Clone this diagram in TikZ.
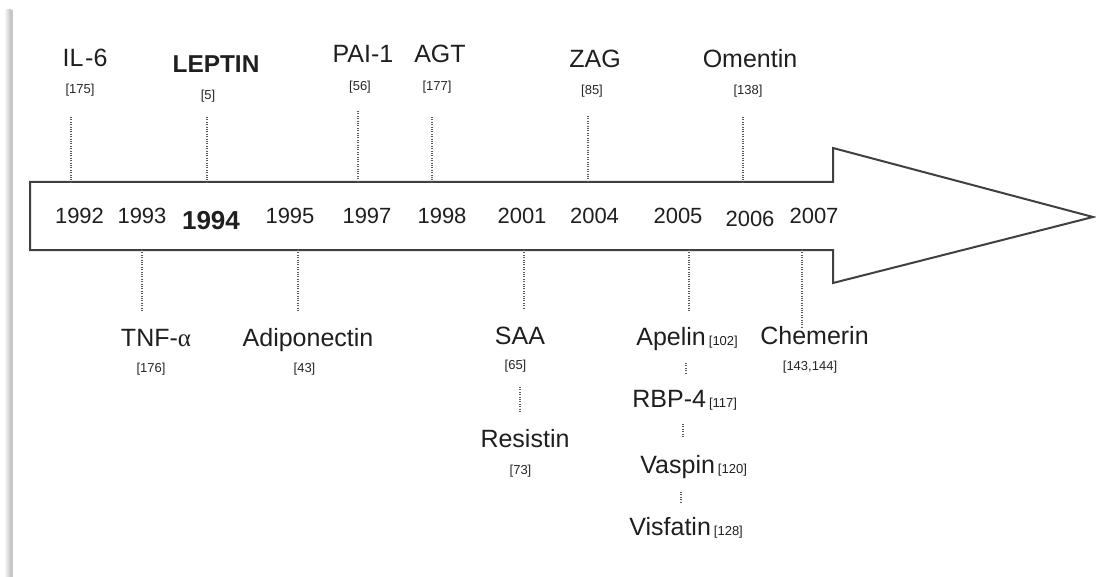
\documentclass[tikz,border=0pt]{standalone}
\usepackage{fontspec}
\setmainfont{Liberation Sans}
\newfontfamily\grkfont{Liberation Serif}
\newcommand\refsz{\fontsize{6.5}{8}\selectfont}
\begin{document}
\begin{tikzpicture}[x=0.5pt,y=-0.5pt,
  lab/.style={anchor=base, inner sep=0pt, font=\fontsize{12.5}{14}\selectfont, text=black!88},
  labw/.style={anchor=base west, inner sep=0pt, font=\fontsize{12.5}{14}\selectfont, text=black!88},
  yr/.style={anchor=base, inner sep=0pt, font=\fontsize{11}{13}\selectfont, text=black!88},
  ref/.style={anchor=base, inner sep=0pt, font=\refsz, text=black!85},
  dots/.style={draw=black!65, line width=0.6pt, dash pattern=on 0.5pt off 0.7pt},
  outline/.style={draw=black!75, line width=1pt, line join=miter}]
\useasboundingbox (0,0) rectangle (1096,577);
\fill[white] (0,0) rectangle (1096,577);
\shade[left color=white, right color=black!25] (4,10) rectangle (11,577);
\fill[black!22] (11,10) rectangle (12.5,577);

% arrow
\draw[outline] (30,182) -- (833,182) -- (833,148) -- (1093,217) -- (833,283) -- (833,250) -- (30,250) -- cycle;

% years
\node[yr] (y1992) at (79.5,224) {1992};
\node[yr] (y1993) at (142,224) {1993};
\node[yr, font=\fontsize{13}{15}\selectfont\bfseries] (y1994) at (211,229) {1994};
\node[yr] (y1995) at (290,223) {1995};
\node[yr] (y1997) at (367,224) {1997};
\node[yr] (y1998) at (442,224) {1998};
\node[yr] (y2001) at (522,224) {2001};
\node[yr] (y2004) at (594.5,224) {2004};
\node[yr] (y2005) at (678,223) {2005};
\node[yr] (y2006) at (750,227) {2006};
\node[yr] (y2007) at (814,223) {2007};

% top labels
\node[lab] (il6) at (85,67) {IL\hspace{0.9pt}-6};
\node[ref] (il6r) at (80,94) {[175]};
\node[lab, font=\fontsize{12.2}{14}\selectfont\bfseries] (lep) at (216,73) {LEPTIN};
\node[ref] (lepr) at (208,100) {[5]};
\node[lab] (pai) at (363,63) {PAI-1};
\node[ref] (pair) at (360,91) {[56]};
\node[lab] (agt) at (440,63) {AGT};
\node[ref] (agtr) at (437,91) {[177]};
\node[lab] (zag) at (595,68) {ZAG};
\node[ref] (zagr) at (592,95) {[85]};
\node[lab] (om) at (750,68) {Omentin};
\node[ref] (omr) at (748,95) {[138]};

\coordinate (t1a) at (71,117);  \coordinate (t1b) at (71,182);
\coordinate (t2a) at (207,117); \coordinate (t2b) at (207,182);
\coordinate (t3a) at (358,111); \coordinate (t3b) at (358,182);
\coordinate (t4a) at (432,117); \coordinate (t4b) at (432,182);
\coordinate (t5a) at (588,116); \coordinate (t5b) at (588,182);
\coordinate (t6a) at (743,117); \coordinate (t6b) at (743,182);
\draw[dots] (t1a) -- (t1b);
\draw[dots] (t2a) -- (t2b);
\draw[dots] (t3a) -- (t3b);
\draw[dots] (t4a) -- (t4b);
\draw[dots] (t5a) -- (t5b);
\draw[dots] (t6a) -- (t6b);

% bottom labels
\node[lab] (tnf) at (156,346) {TNF-{\grkfont α}};
\node[ref] (tnfr) at (151,372) {[176]};
\node[lab] (adi) at (308,346) {Adiponectin};
\node[ref] (adir) at (304.5,372) {[43]};
\node[lab] (saa) at (520,344) {SAA};
\node[ref] (saar) at (515.5,369) {[65]};
\node[lab] (res) at (525,447) {Resistin};
\node[ref] (resr) at (520.5,474) {[73]};
\node[labw] (ape) at (636,345) {Apelin\hspace{1.5pt}{\refsz[102]}};
\node[labw] (rbp) at (632,407) {RBP-4\hspace{1.5pt}{\refsz[117]}};
\node[labw] (vas) at (640,473) {Vaspin\hspace{1.5pt}{\refsz[120]}};
\node[labw] (vis) at (629,535) {Visfatin\hspace{1.5pt}{\refsz[128]}};
\node[lab] (che) at (814.5,344) {Chemerin};
\node[ref] (cher) at (810,370) {[143,144]};

\coordinate (b1a) at (142,250); \coordinate (b1b) at (142,311);
\coordinate (b2a) at (298,250); \coordinate (b2b) at (298,311);
\coordinate (b3a) at (524,250); \coordinate (b3b) at (524,310);
\coordinate (b4a) at (689,250); \coordinate (b4b) at (689,311);
\coordinate (b5a) at (802,250); \coordinate (b5b) at (802,328);
\draw[dots] (b1a) -- (b1b);
\draw[dots] (b2a) -- (b2b);
\draw[dots] (b3a) -- (b3b);
\draw[dots] (b4a) -- (b4b);
\draw[dots] (b5a) -- (b5b);

\coordinate (c1a) at (520,387); \coordinate (c1b) at (520,413);
\coordinate (c2a) at (686,363); \coordinate (c2b) at (686,373);
\coordinate (c3a) at (683,424); \coordinate (c3b) at (683,437);
\coordinate (c4a) at (681,492); \coordinate (c4b) at (681,502);
\draw[dots] (c1a) -- (c1b);
\draw[dots] (c2a) -- (c2b);
\draw[dots] (c3a) -- (c3b);
\draw[dots] (c4a) -- (c4b);
\end{tikzpicture}
\end{document}
